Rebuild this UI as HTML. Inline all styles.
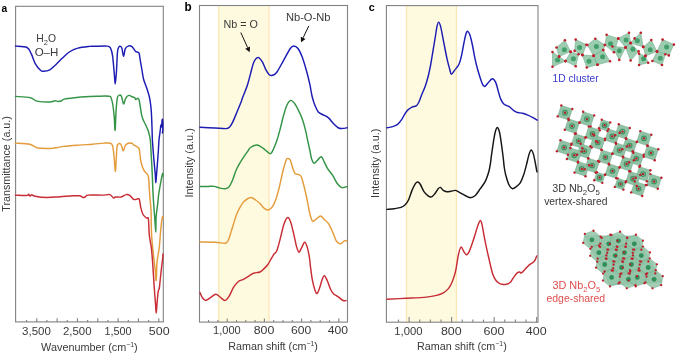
<!DOCTYPE html>
<html><head><meta charset="utf-8"><style>
html,body{margin:0;padding:0;background:#fff;}
body{width:685px;height:354px;overflow:hidden;}
svg{display:block;will-change:transform;font-family:"Liberation Sans",sans-serif;}
</style></head><body>
<svg width="685" height="354" viewBox="0 0 685 354">
<rect width="685" height="354" fill="#fff"/>
<rect x="218.8" y="5.5" width="50.19999999999999" height="316.6" fill="#fefae0"/>
<line x1="218.8" y1="5.5" x2="218.8" y2="322.1" stroke="#fae8b3" stroke-width="1.3"/>
<line x1="269.0" y1="5.5" x2="269.0" y2="322.1" stroke="#fae8b3" stroke-width="1.3"/>
<rect x="406.5" y="5.6" width="49.89999999999998" height="316.59999999999997" fill="#fefae0"/>
<line x1="406.5" y1="5.6" x2="406.5" y2="322.2" stroke="#fae8b3" stroke-width="1.3"/>
<line x1="456.4" y1="5.6" x2="456.4" y2="322.2" stroke="#fae8b3" stroke-width="1.3"/>
<rect x="15.6" y="6.3" width="147.70000000000002" height="315.59999999999997" fill="none" stroke="#828282" stroke-width="1.1"/>
<line x1="158.80" y1="321.9" x2="158.80" y2="318.29999999999995" stroke="#828282" stroke-width="1.1"/>
<line x1="148.63" y1="321.9" x2="148.63" y2="319.9" stroke="#828282" stroke-width="1.1"/>
<line x1="138.46" y1="321.9" x2="138.46" y2="318.29999999999995" stroke="#828282" stroke-width="1.1"/>
<line x1="128.29" y1="321.9" x2="128.29" y2="319.9" stroke="#828282" stroke-width="1.1"/>
<line x1="118.12" y1="321.9" x2="118.12" y2="318.29999999999995" stroke="#828282" stroke-width="1.1"/>
<line x1="107.95" y1="321.9" x2="107.95" y2="319.9" stroke="#828282" stroke-width="1.1"/>
<line x1="97.78" y1="321.9" x2="97.78" y2="318.29999999999995" stroke="#828282" stroke-width="1.1"/>
<line x1="87.61" y1="321.9" x2="87.61" y2="319.9" stroke="#828282" stroke-width="1.1"/>
<line x1="77.44" y1="321.9" x2="77.44" y2="318.29999999999995" stroke="#828282" stroke-width="1.1"/>
<line x1="67.27" y1="321.9" x2="67.27" y2="319.9" stroke="#828282" stroke-width="1.1"/>
<line x1="57.10" y1="321.9" x2="57.10" y2="318.29999999999995" stroke="#828282" stroke-width="1.1"/>
<line x1="46.93" y1="321.9" x2="46.93" y2="319.9" stroke="#828282" stroke-width="1.1"/>
<line x1="36.76" y1="321.9" x2="36.76" y2="318.29999999999995" stroke="#828282" stroke-width="1.1"/>
<line x1="26.59" y1="321.9" x2="26.59" y2="319.9" stroke="#828282" stroke-width="1.1"/>
<rect x="199.5" y="5.5" width="148.0" height="316.6" fill="none" stroke="#828282" stroke-width="1.1"/>
<line x1="208.60" y1="322.1" x2="208.60" y2="320.1" stroke="#828282" stroke-width="1.1"/>
<line x1="217.90" y1="322.1" x2="217.90" y2="320.1" stroke="#828282" stroke-width="1.1"/>
<line x1="227.20" y1="322.1" x2="227.20" y2="318.5" stroke="#828282" stroke-width="1.1"/>
<line x1="236.50" y1="322.1" x2="236.50" y2="320.1" stroke="#828282" stroke-width="1.1"/>
<line x1="245.80" y1="322.1" x2="245.80" y2="320.1" stroke="#828282" stroke-width="1.1"/>
<line x1="255.10" y1="322.1" x2="255.10" y2="320.1" stroke="#828282" stroke-width="1.1"/>
<line x1="264.40" y1="322.1" x2="264.40" y2="318.5" stroke="#828282" stroke-width="1.1"/>
<line x1="273.70" y1="322.1" x2="273.70" y2="320.1" stroke="#828282" stroke-width="1.1"/>
<line x1="283.00" y1="322.1" x2="283.00" y2="320.1" stroke="#828282" stroke-width="1.1"/>
<line x1="292.30" y1="322.1" x2="292.30" y2="320.1" stroke="#828282" stroke-width="1.1"/>
<line x1="301.60" y1="322.1" x2="301.60" y2="318.5" stroke="#828282" stroke-width="1.1"/>
<line x1="310.90" y1="322.1" x2="310.90" y2="320.1" stroke="#828282" stroke-width="1.1"/>
<line x1="320.20" y1="322.1" x2="320.20" y2="320.1" stroke="#828282" stroke-width="1.1"/>
<line x1="329.50" y1="322.1" x2="329.50" y2="320.1" stroke="#828282" stroke-width="1.1"/>
<line x1="338.80" y1="322.1" x2="338.80" y2="318.5" stroke="#828282" stroke-width="1.1"/>
<rect x="386.4" y="5.6" width="151.60000000000002" height="316.59999999999997" fill="none" stroke="#828282" stroke-width="1.1"/>
<line x1="398.47" y1="322.2" x2="398.47" y2="319.59999999999997" stroke="#828282" stroke-width="1.1"/>
<line x1="409.10" y1="322.2" x2="409.10" y2="317.0" stroke="#828282" stroke-width="1.1"/>
<line x1="419.73" y1="322.2" x2="419.73" y2="319.59999999999997" stroke="#828282" stroke-width="1.1"/>
<line x1="430.36" y1="322.2" x2="430.36" y2="319.59999999999997" stroke="#828282" stroke-width="1.1"/>
<line x1="440.99" y1="322.2" x2="440.99" y2="319.59999999999997" stroke="#828282" stroke-width="1.1"/>
<line x1="451.62" y1="322.2" x2="451.62" y2="317.0" stroke="#828282" stroke-width="1.1"/>
<line x1="462.25" y1="322.2" x2="462.25" y2="319.59999999999997" stroke="#828282" stroke-width="1.1"/>
<line x1="472.88" y1="322.2" x2="472.88" y2="319.59999999999997" stroke="#828282" stroke-width="1.1"/>
<line x1="483.51" y1="322.2" x2="483.51" y2="319.59999999999997" stroke="#828282" stroke-width="1.1"/>
<line x1="494.14" y1="322.2" x2="494.14" y2="317.0" stroke="#828282" stroke-width="1.1"/>
<line x1="504.77" y1="322.2" x2="504.77" y2="319.59999999999997" stroke="#828282" stroke-width="1.1"/>
<line x1="515.40" y1="322.2" x2="515.40" y2="319.59999999999997" stroke="#828282" stroke-width="1.1"/>
<line x1="526.03" y1="322.2" x2="526.03" y2="319.59999999999997" stroke="#828282" stroke-width="1.1"/>
<line x1="536.66" y1="322.2" x2="536.66" y2="317.0" stroke="#828282" stroke-width="1.1"/>
<path d="M15.50,46.10 C17.42,46.33 24.38,46.23 27.00,47.50 C29.62,48.77 29.80,50.97 31.20,53.70 C32.60,56.43 33.85,61.13 35.40,63.90 C36.95,66.67 39.15,69.07 40.50,70.30 C41.85,71.53 41.95,71.38 43.50,71.30 C45.05,71.22 47.75,70.90 49.80,69.80 C51.85,68.70 53.68,66.67 55.80,64.70 C57.92,62.73 60.25,60.12 62.50,58.00 C64.75,55.88 66.75,53.65 69.30,52.00 C71.85,50.35 74.40,49.03 77.80,48.10 C81.20,47.17 86.80,46.70 89.70,46.40 C92.60,46.10 92.32,46.35 95.20,46.30 C98.08,46.25 104.47,45.85 107.00,46.10 C109.53,46.35 109.48,46.25 110.40,47.80 C111.32,49.35 111.87,51.30 112.50,55.40 C113.13,59.50 113.75,67.65 114.20,72.40 C114.65,77.15 114.83,83.90 115.20,83.90 C115.57,83.90 116.02,77.72 116.40,72.40 C116.78,67.08 117.08,56.23 117.50,52.00 C117.92,47.77 118.38,47.93 118.90,47.00 C119.42,46.07 120.08,46.13 120.60,46.40 C121.12,46.67 121.50,46.95 122.00,48.60 C122.50,50.25 123.05,56.30 123.60,56.30 C124.15,56.30 124.53,50.30 125.30,48.60 C126.07,46.90 127.15,46.47 128.20,46.10 C129.25,45.73 130.60,45.83 131.60,46.40 C132.60,46.97 133.50,48.62 134.20,49.50 C134.90,50.38 135.02,51.13 135.80,51.70 C136.58,52.27 138.20,51.72 138.90,52.90 C139.60,54.08 139.52,56.12 140.00,58.80 C140.48,61.48 141.22,65.63 141.80,69.00 C142.38,72.37 142.65,75.75 143.50,79.00 C144.35,82.25 145.92,85.50 146.90,88.50 C147.88,91.50 148.77,94.25 149.40,97.00 C150.03,99.75 150.37,102.33 150.70,105.00 C151.03,107.67 151.18,109.33 151.40,113.00 C151.62,116.67 151.83,122.50 152.00,127.00 C152.17,131.50 152.15,135.33 152.40,140.00 C152.65,144.67 153.17,150.83 153.50,155.00 C153.83,159.17 154.10,161.67 154.40,165.00 C154.70,168.33 155.07,172.03 155.30,175.00 C155.53,177.97 155.60,182.80 155.80,182.80 C156.00,182.80 156.25,177.97 156.50,175.00 C156.75,172.03 156.98,169.17 157.30,165.00 C157.62,160.83 158.12,154.17 158.40,150.00 C158.68,145.83 158.68,143.33 159.00,140.00 C159.32,136.67 159.98,132.50 160.30,130.00 C160.62,127.50 160.68,125.50 160.90,125.00 C161.12,124.50 161.42,127.67 161.60,127.00 C161.78,126.33 161.85,122.22 162.00,121.00 C162.15,119.78 162.35,118.53 162.50,119.70 C162.65,120.87 162.92,125.78 162.90,128.00 C162.88,130.22 162.48,132.17 162.40,133.00" fill="none" stroke="#1c1cb4" stroke-width="1.45" stroke-linejoin="round" stroke-linecap="round"/>
<path d="M15.50,96.40 C17.97,96.62 26.70,96.92 30.30,97.70 C33.90,98.48 33.85,100.38 37.10,101.10 C40.35,101.82 46.83,102.05 49.80,102.00 C52.77,101.95 53.48,100.90 54.90,100.80 C56.32,100.70 57.17,101.40 58.30,101.40 C59.43,101.40 60.72,101.18 61.70,100.80 C62.68,100.42 62.08,99.62 64.20,99.10 C66.32,98.58 70.15,98.13 74.40,97.70 C78.65,97.27 85.82,96.75 89.70,96.50 C93.58,96.25 94.47,96.25 97.70,96.20 C100.93,96.15 106.88,95.95 109.10,96.20 C111.32,96.45 110.40,96.40 111.00,97.70 C111.60,99.00 112.17,100.82 112.70,104.00 C113.23,107.18 113.80,112.43 114.20,116.80 C114.60,121.17 114.78,131.27 115.10,130.20 C115.42,129.13 115.72,115.82 116.10,110.40 C116.48,104.98 116.87,100.23 117.40,97.70 C117.93,95.17 118.67,95.52 119.30,95.20 C119.93,94.88 120.67,94.97 121.20,95.80 C121.73,96.63 122.07,98.83 122.50,100.20 C122.93,101.57 123.27,104.32 123.80,104.00 C124.33,103.68 124.87,99.73 125.70,98.30 C126.53,96.87 127.75,95.67 128.80,95.40 C129.85,95.13 131.03,96.32 132.00,96.70 C132.97,97.08 133.97,97.22 134.60,97.70 C135.23,98.18 135.28,99.53 135.80,99.60 C136.32,99.67 137.17,98.10 137.70,98.10 C138.23,98.10 138.62,98.45 139.00,99.60 C139.38,100.75 139.53,102.33 140.00,105.00 C140.47,107.67 141.22,113.00 141.80,115.60 C142.38,118.20 142.93,119.20 143.50,120.60 C144.07,122.00 144.42,122.30 145.20,124.00 C145.98,125.70 147.35,128.13 148.20,130.80 C149.05,133.47 149.80,135.97 150.30,140.00 C150.80,144.03 150.95,150.83 151.20,155.00 C151.45,159.17 151.62,161.67 151.80,165.00 C151.98,168.33 152.08,170.00 152.30,175.00 C152.52,180.00 152.70,187.93 153.10,195.00 C153.50,202.07 154.25,211.22 154.70,217.40 C155.15,223.58 155.57,232.10 155.80,232.10 C156.03,232.10 155.77,222.22 156.10,217.40 C156.43,212.58 157.38,206.93 157.80,203.20 C158.22,199.47 158.25,197.70 158.60,195.00 C158.95,192.30 159.48,189.45 159.90,187.00 C160.32,184.55 160.65,182.55 161.10,180.30 C161.55,178.05 162.28,174.22 162.60,173.50 C162.92,172.78 162.93,175.58 163.00,176.00" fill="none" stroke="#349446" stroke-width="1.45" stroke-linejoin="round" stroke-linecap="round"/>
<path d="M15.50,143.10 C17.88,143.28 26.10,143.38 29.80,144.20 C33.50,145.02 34.20,147.30 37.70,148.00 C41.20,148.70 47.52,148.48 50.80,148.40 C54.08,148.32 55.22,147.83 57.40,147.50 C59.58,147.17 60.18,146.80 63.90,146.40 C67.62,146.00 74.88,145.47 79.70,145.10 C84.52,144.73 88.75,144.53 92.80,144.20 C96.85,143.87 101.03,143.25 104.00,143.10 C106.97,142.95 109.15,142.80 110.60,143.30 C112.05,143.80 112.12,143.87 112.70,146.10 C113.28,148.33 113.67,152.50 114.10,156.70 C114.53,160.90 114.95,170.75 115.30,171.30 C115.65,171.85 115.92,164.08 116.20,160.00 C116.48,155.92 116.63,149.47 117.00,146.80 C117.37,144.13 117.82,144.47 118.40,144.00 C118.98,143.53 119.92,143.53 120.50,144.00 C121.08,144.47 121.43,145.67 121.90,146.80 C122.37,147.93 122.72,151.03 123.30,150.80 C123.88,150.57 124.58,146.65 125.40,145.40 C126.22,144.15 127.13,143.65 128.20,143.30 C129.27,142.95 130.85,143.00 131.80,143.30 C132.75,143.60 133.20,144.63 133.90,145.10 C134.60,145.57 135.32,145.70 136.00,146.10 C136.68,146.50 137.43,146.88 138.00,147.50 C138.57,148.12 138.93,147.55 139.40,149.80 C139.87,152.05 140.28,158.13 140.80,161.00 C141.32,163.87 141.90,165.33 142.50,167.00 C143.10,168.67 143.50,169.63 144.40,171.00 C145.30,172.37 147.17,173.65 147.90,175.20 C148.63,176.75 148.50,177.00 148.80,180.30 C149.10,183.60 149.33,190.05 149.70,195.00 C150.07,199.95 150.68,203.33 151.00,210.00 C151.32,216.67 151.18,227.45 151.60,235.00 C152.02,242.55 152.90,249.47 153.50,255.30 C154.10,261.13 154.75,265.80 155.20,270.00 C155.65,274.20 155.90,281.77 156.20,280.50 C156.50,279.23 156.50,267.78 157.00,262.40 C157.50,257.02 158.65,252.77 159.20,248.20 C159.75,243.63 159.98,238.67 160.30,235.00 C160.62,231.33 160.75,229.22 161.10,226.20 C161.45,223.18 162.08,218.27 162.40,216.90 C162.72,215.53 162.90,217.82 163.00,218.00" fill="none" stroke="#e49b3a" stroke-width="1.45" stroke-linejoin="round" stroke-linecap="round"/>
<path d="M15.50,195.10 C17.43,195.15 24.93,195.55 27.10,195.40 C29.27,195.25 28.02,194.10 28.50,194.20 C28.98,194.30 29.47,195.92 30.00,196.00 C30.53,196.08 30.87,194.67 31.70,194.70 C32.53,194.73 32.47,195.73 35.00,196.20 C37.53,196.67 42.73,197.42 46.90,197.50 C51.07,197.58 55.63,196.98 60.00,196.70 C64.37,196.42 69.82,195.95 73.10,195.80 C76.38,195.65 78.17,195.58 79.70,195.80 C81.23,196.02 81.53,196.82 82.30,197.10 C83.07,197.38 83.63,197.68 84.30,197.50 C84.97,197.32 85.65,196.40 86.30,196.00 C86.95,195.60 85.25,195.25 88.20,195.10 C91.15,194.95 100.38,195.18 104.00,195.10 C107.62,195.02 108.33,194.13 109.90,194.60 C111.47,195.07 112.47,197.50 113.40,197.90 C114.33,198.30 114.20,197.15 115.50,197.00 C116.80,196.85 119.43,197.40 121.20,197.00 C122.97,196.60 124.68,194.88 126.10,194.60 C127.52,194.32 128.40,194.48 129.70,195.30 C131.00,196.12 132.50,198.92 133.90,199.50 C135.30,200.08 137.18,198.77 138.10,198.80 C139.02,198.83 138.95,198.25 139.40,199.70 C139.85,201.15 140.20,205.03 140.80,207.50 C141.40,209.97 142.05,212.75 143.00,214.50 C143.95,216.25 145.60,217.25 146.50,218.00 C147.40,218.75 147.93,216.17 148.40,219.00 C148.87,221.83 148.80,230.13 149.30,235.00 C149.80,239.87 150.82,243.20 151.40,248.20 C151.98,253.20 152.32,258.32 152.80,265.00 C153.28,271.68 153.85,281.83 154.30,288.30 C154.75,294.77 155.18,299.67 155.50,303.80 C155.82,307.93 155.95,313.10 156.20,313.10 C156.45,313.10 156.67,307.42 157.00,303.80 C157.33,300.18 157.82,293.98 158.20,291.40 C158.58,288.82 158.92,290.70 159.30,288.30 C159.68,285.90 160.13,280.38 160.50,277.00 C160.87,273.62 161.17,270.83 161.50,268.00 C161.83,265.17 162.25,262.33 162.50,260.00 C162.75,257.67 162.92,255.00 163.00,254.00" fill="none" stroke="#c82c34" stroke-width="1.45" stroke-linejoin="round" stroke-linecap="round"/>
<path d="M200.00,127.20 C202.50,127.33 210.67,127.77 215.00,128.00 C219.33,128.23 223.60,128.73 226.00,128.60 C228.40,128.47 228.28,128.28 229.40,127.20 C230.52,126.12 231.43,124.63 232.70,122.10 C233.97,119.57 235.58,115.38 237.00,112.00 C238.42,108.62 240.30,104.13 241.20,101.80 C242.10,99.47 241.40,100.67 242.40,98.00 C243.40,95.33 245.85,89.82 247.20,85.80 C248.55,81.78 249.38,77.87 250.50,73.90 C251.62,69.93 252.62,64.73 253.90,62.00 C255.18,59.27 256.78,57.50 258.20,57.50 C259.62,57.50 261.13,59.97 262.40,62.00 C263.67,64.03 264.67,67.58 265.80,69.70 C266.93,71.82 268.08,73.77 269.20,74.70 C270.32,75.63 271.23,75.72 272.50,75.30 C273.77,74.88 274.95,74.70 276.80,72.20 C278.65,69.70 281.35,64.25 283.60,60.30 C285.85,56.35 288.62,50.90 290.30,48.50 C291.98,46.10 292.42,45.90 293.70,45.90 C294.98,45.90 296.58,46.65 298.00,48.50 C299.42,50.35 300.80,53.33 302.20,57.00 C303.60,60.67 305.13,65.98 306.40,70.50 C307.67,75.02 308.90,80.02 309.80,84.10 C310.70,88.18 311.20,92.18 311.80,95.00 C312.40,97.82 312.88,99.30 313.40,101.00 C313.92,102.70 314.08,103.37 314.90,105.20 C315.72,107.03 317.03,110.45 318.30,112.00 C319.57,113.55 320.80,113.52 322.50,114.50 C324.20,115.48 326.65,116.35 328.50,117.90 C330.35,119.45 331.92,122.12 333.60,123.80 C335.28,125.48 337.05,127.23 338.60,128.00 C340.15,128.77 341.48,128.45 342.90,128.40 C344.32,128.35 346.40,127.82 347.10,127.70" fill="none" stroke="#1c1cb4" stroke-width="1.45" stroke-linejoin="round" stroke-linecap="round"/>
<path d="M200.00,186.40 C201.37,186.40 205.85,186.40 208.20,186.40 C210.55,186.40 212.13,186.12 214.10,186.40 C216.07,186.68 218.02,187.73 220.00,188.10 C221.98,188.47 224.43,188.88 226.00,188.60 C227.57,188.32 228.28,187.88 229.40,186.40 C230.52,184.92 231.58,182.38 232.70,179.70 C233.82,177.02 234.97,172.98 236.10,170.30 C237.23,167.62 238.22,165.85 239.50,163.60 C240.78,161.35 242.38,158.93 243.80,156.80 C245.22,154.67 246.88,152.35 248.00,150.80 C249.12,149.25 248.95,148.47 250.50,147.50 C252.05,146.53 255.17,144.85 257.30,145.00 C259.43,145.15 261.47,147.13 263.30,148.40 C265.13,149.67 267.03,151.75 268.30,152.60 C269.57,153.45 270.05,154.07 270.90,153.50 C271.75,152.93 272.42,151.32 273.40,149.20 C274.38,147.08 275.67,144.18 276.80,140.80 C277.93,137.42 279.07,133.15 280.20,128.90 C281.33,124.65 282.48,119.25 283.60,115.30 C284.72,111.35 285.72,107.68 286.90,105.20 C288.08,102.72 289.42,100.68 290.70,100.40 C291.98,100.12 293.38,102.00 294.60,103.50 C295.82,105.00 296.73,106.87 298.00,109.40 C299.27,111.93 300.93,115.17 302.20,118.70 C303.47,122.23 304.62,126.63 305.60,130.60 C306.58,134.57 307.40,139.27 308.10,142.50 C308.80,145.73 309.23,147.33 309.80,150.00 C310.37,152.67 310.78,156.30 311.50,158.50 C312.22,160.70 313.10,162.92 314.10,163.20 C315.10,163.48 316.28,161.27 317.50,160.20 C318.72,159.13 320.28,156.52 321.40,156.80 C322.52,157.08 323.17,159.93 324.20,161.90 C325.23,163.87 326.18,166.35 327.60,168.60 C329.02,170.85 331.15,173.00 332.70,175.40 C334.25,177.80 335.48,181.02 336.90,183.00 C338.32,184.98 339.92,186.58 341.20,187.30 C342.48,188.02 343.62,187.45 344.60,187.30 C345.58,187.15 346.68,186.55 347.10,186.40" fill="none" stroke="#349446" stroke-width="1.45" stroke-linejoin="round" stroke-linecap="round"/>
<path d="M200.00,242.00 C202.50,242.05 211.10,242.12 215.00,242.30 C218.90,242.48 221.57,242.97 223.40,243.10 C225.23,243.23 225.15,243.67 226.00,243.10 C226.85,242.53 227.67,241.53 228.50,239.70 C229.33,237.87 230.15,234.78 231.00,232.10 C231.85,229.42 232.60,226.70 233.60,223.60 C234.60,220.50 235.87,216.32 237.00,213.50 C238.13,210.68 239.27,208.67 240.40,206.70 C241.53,204.73 242.12,203.23 243.80,201.70 C245.48,200.17 248.53,197.78 250.50,197.50 C252.47,197.22 253.90,198.88 255.60,200.00 C257.30,201.12 259.42,202.95 260.70,204.20 C261.98,205.45 262.32,206.58 263.30,207.50 C264.28,208.42 265.62,209.33 266.60,209.70 C267.58,210.07 268.22,210.20 269.20,209.70 C270.18,209.20 271.38,208.45 272.50,206.70 C273.62,204.95 274.77,202.43 275.90,199.20 C277.03,195.97 278.17,191.83 279.30,187.30 C280.43,182.77 281.57,176.52 282.70,172.00 C283.83,167.48 285.25,162.45 286.10,160.20 C286.95,157.95 287.10,158.50 287.80,158.50 C288.50,158.50 289.45,158.52 290.30,160.20 C291.15,161.88 292.05,166.35 292.90,168.60 C293.75,170.85 294.42,172.70 295.40,173.70 C296.38,174.70 297.80,174.03 298.80,174.60 C299.80,175.17 300.42,174.70 301.40,177.10 C302.38,179.50 303.72,185.05 304.70,189.00 C305.68,192.95 306.45,196.72 307.30,200.80 C308.15,204.88 308.95,210.12 309.80,213.50 C310.65,216.88 311.40,220.12 312.40,221.10 C313.40,222.08 314.45,220.25 315.80,219.40 C317.15,218.55 319.10,216.00 320.50,216.00 C321.90,216.00 322.87,218.13 324.20,219.40 C325.53,220.67 327.08,221.48 328.50,223.60 C329.92,225.72 331.43,229.27 332.70,232.10 C333.97,234.93 334.97,238.68 336.10,240.60 C337.23,242.52 338.52,243.18 339.50,243.60 C340.48,244.02 341.15,243.60 342.00,243.10 C342.85,242.60 343.75,240.88 344.60,240.60 C345.45,240.32 346.68,241.27 347.10,241.40" fill="none" stroke="#e49b3a" stroke-width="1.45" stroke-linejoin="round" stroke-linecap="round"/>
<path d="M200.00,292.60 C200.37,293.40 201.27,296.10 202.20,297.40 C203.13,298.70 204.18,300.40 205.60,300.40 C207.02,300.40 209.00,298.42 210.70,297.40 C212.40,296.38 214.25,294.37 215.80,294.30 C217.35,294.23 218.45,295.98 220.00,297.00 C221.55,298.02 223.53,300.62 225.10,300.40 C226.67,300.18 227.98,297.90 229.40,295.70 C230.82,293.50 232.05,289.60 233.60,287.20 C235.15,284.80 237.15,282.57 238.70,281.30 C240.25,280.03 241.35,280.37 242.90,279.60 C244.45,278.83 246.30,277.75 248.00,276.70 C249.70,275.65 251.12,274.08 253.10,273.30 C255.08,272.52 258.07,272.78 259.90,272.00 C261.73,271.22 262.83,269.77 264.10,268.60 C265.37,267.43 266.43,266.43 267.50,265.00 C268.57,263.57 269.43,261.80 270.50,260.00 C271.57,258.20 272.85,255.73 273.90,254.20 C274.95,252.67 275.75,253.35 276.80,250.80 C277.85,248.25 279.07,243.15 280.20,238.90 C281.33,234.65 282.42,228.83 283.60,225.30 C284.78,221.77 286.18,218.40 287.30,217.70 C288.42,217.00 289.23,218.42 290.30,221.10 C291.37,223.78 292.70,229.70 293.70,233.80 C294.70,237.90 295.45,242.65 296.30,245.70 C297.15,248.75 297.95,251.68 298.80,252.10 C299.65,252.52 300.42,249.83 301.40,248.20 C302.38,246.57 303.72,242.43 304.70,242.30 C305.68,242.17 306.50,244.78 307.30,247.40 C308.10,250.02 308.97,254.75 309.50,258.00 C310.03,261.25 310.00,263.12 310.50,266.90 C311.00,270.68 311.73,276.75 312.50,280.70 C313.27,284.65 314.35,288.47 315.10,290.60 C315.85,292.73 316.28,293.83 317.00,293.50 C317.72,293.17 318.60,290.73 319.40,288.60 C320.20,286.47 320.98,282.83 321.80,280.70 C322.62,278.57 323.38,275.80 324.30,275.80 C325.22,275.80 326.30,278.57 327.30,280.70 C328.30,282.83 329.32,286.47 330.30,288.60 C331.28,290.73 331.88,292.12 333.20,293.50 C334.52,294.88 336.55,295.73 338.20,296.90 C339.85,298.07 341.78,299.90 343.10,300.50 C344.42,301.10 345.60,300.50 346.10,300.50" fill="none" stroke="#c82c34" stroke-width="1.45" stroke-linejoin="round" stroke-linecap="round"/>
<path d="M387.00,127.80 C387.92,127.60 390.73,127.17 392.50,126.60 C394.27,126.03 396.05,125.62 397.60,124.40 C399.15,123.18 400.53,121.13 401.80,119.30 C403.07,117.47 404.22,114.93 405.20,113.40 C406.18,111.87 406.57,111.13 407.70,110.10 C408.83,109.07 410.58,107.92 412.00,107.20 C413.42,106.48 415.08,106.58 416.20,105.80 C417.32,105.02 417.85,104.18 418.70,102.50 C419.55,100.82 420.17,98.53 421.30,95.70 C422.43,92.87 424.30,88.95 425.50,85.50 C426.70,82.05 427.65,78.42 428.50,75.00 C429.35,71.58 430.03,67.93 430.60,65.00 C431.17,62.07 431.12,62.07 431.90,57.40 C432.68,52.73 434.47,42.08 435.30,37.00 C436.13,31.92 436.35,29.38 436.90,26.90 C437.45,24.42 437.97,22.10 438.60,22.10 C439.23,22.10 439.85,23.57 440.70,26.90 C441.55,30.23 442.63,36.73 443.70,42.10 C444.77,47.47 446.10,54.58 447.10,59.10 C448.10,63.62 448.98,66.67 449.70,69.20 C450.42,71.73 450.57,74.15 451.40,74.30 C452.23,74.45 453.43,71.78 454.70,70.10 C455.97,68.42 457.87,66.60 459.00,64.20 C460.13,61.80 460.65,59.38 461.50,55.70 C462.35,52.02 463.33,45.78 464.10,42.10 C464.87,38.42 465.48,35.38 466.10,33.60 C466.72,31.82 467.15,31.12 467.80,31.40 C468.45,31.68 469.22,32.95 470.00,35.30 C470.78,37.65 471.65,41.53 472.50,45.50 C473.35,49.47 474.25,55.15 475.10,59.10 C475.95,63.05 476.45,65.22 477.60,69.20 C478.75,73.18 480.83,80.13 482.00,83.00 C483.17,85.87 483.60,86.40 484.60,86.40 C485.60,86.40 486.73,84.28 488.00,83.00 C489.27,81.72 490.93,78.85 492.20,78.70 C493.47,78.55 494.62,80.12 495.60,82.10 C496.58,84.08 497.25,87.77 498.10,90.60 C498.95,93.43 499.70,96.83 500.70,99.10 C501.70,101.37 502.68,102.93 504.10,104.20 C505.52,105.47 507.52,105.58 509.20,106.70 C510.88,107.82 512.80,109.93 514.20,110.90 C515.60,111.87 516.18,112.10 517.60,112.50 C519.02,112.90 521.00,112.87 522.70,113.30 C524.40,113.73 526.10,114.38 527.80,115.10 C529.50,115.82 531.35,116.75 532.90,117.60 C534.45,118.45 536.40,119.77 537.10,120.20" fill="none" stroke="#1c1cb4" stroke-width="1.45" stroke-linejoin="round" stroke-linecap="round"/>
<path d="M387.00,209.40 C388.20,209.28 391.87,209.03 394.20,208.70 C396.53,208.37 399.17,208.05 401.00,207.40 C402.83,206.75 403.93,206.08 405.20,204.80 C406.47,203.52 407.47,202.10 408.60,199.70 C409.73,197.30 410.87,193.08 412.00,190.40 C413.13,187.72 414.42,185.00 415.40,183.60 C416.38,182.20 417.07,181.85 417.90,182.00 C418.73,182.15 419.42,182.95 420.40,184.50 C421.38,186.05 422.52,189.42 423.80,191.30 C425.08,193.18 426.82,194.87 428.10,195.80 C429.38,196.73 430.38,197.23 431.50,196.90 C432.62,196.57 433.68,195.17 434.80,193.80 C435.92,192.43 437.27,189.77 438.20,188.70 C439.13,187.63 439.55,187.12 440.40,187.40 C441.25,187.68 442.25,189.67 443.30,190.40 C444.35,191.13 445.43,191.65 446.70,191.80 C447.97,191.95 449.48,191.53 450.90,191.30 C452.32,191.07 453.92,190.32 455.20,190.40 C456.48,190.48 457.33,191.17 458.60,191.80 C459.87,192.43 461.72,193.58 462.80,194.20 C463.88,194.82 463.87,194.92 465.10,195.50 C466.33,196.08 468.50,197.70 470.20,197.70 C471.90,197.70 473.62,197.00 475.30,195.50 C476.98,194.00 478.62,191.10 480.30,188.70 C481.98,186.30 483.98,183.92 485.40,181.10 C486.82,178.28 487.95,174.82 488.80,171.80 C489.65,168.78 490.07,165.67 490.50,163.00 C490.93,160.33 490.83,159.83 491.40,155.80 C491.97,151.77 493.22,142.93 493.90,138.80 C494.58,134.67 494.93,132.88 495.50,131.00 C496.07,129.12 496.68,127.50 497.30,127.50 C497.92,127.50 498.63,129.12 499.20,131.00 C499.77,132.88 500.03,134.38 500.70,138.80 C501.37,143.22 502.62,152.80 503.20,157.50 C503.78,162.20 503.77,164.05 504.20,167.00 C504.63,169.95 504.97,172.15 505.80,175.20 C506.63,178.25 508.08,183.05 509.20,185.30 C510.32,187.55 511.38,188.42 512.50,188.70 C513.62,188.98 514.58,188.02 515.90,187.00 C517.22,185.98 519.13,184.55 520.40,182.60 C521.67,180.65 522.52,178.17 523.50,175.30 C524.48,172.43 525.37,168.93 526.30,165.40 C527.23,161.87 528.28,156.68 529.10,154.10 C529.92,151.52 530.48,149.90 531.20,149.90 C531.92,149.90 532.68,151.75 533.40,154.10 C534.12,156.45 534.92,161.05 535.50,164.00 C536.08,166.95 536.67,170.50 536.90,171.80" fill="none" stroke="#151515" stroke-width="1.45" stroke-linejoin="round" stroke-linecap="round"/>
<path d="M387.00,299.20 C390.17,299.05 399.43,298.65 406.00,298.30 C412.57,297.95 421.32,297.58 426.40,297.10 C431.48,296.62 433.68,296.10 436.50,295.40 C439.32,294.70 441.32,294.03 443.30,292.90 C445.28,291.77 446.98,290.30 448.40,288.60 C449.82,286.90 450.82,284.82 451.80,282.70 C452.78,280.58 453.60,278.15 454.30,275.90 C455.00,273.65 455.28,272.87 456.00,269.20 C456.72,265.53 457.75,257.58 458.60,253.90 C459.45,250.22 460.17,247.37 461.10,247.10 C462.03,246.83 463.25,251.02 464.20,252.30 C465.15,253.58 465.95,254.95 466.80,254.80 C467.65,254.65 468.32,253.52 469.30,251.40 C470.28,249.28 471.57,245.48 472.70,242.10 C473.83,238.72 475.12,234.20 476.10,231.10 C477.08,228.00 477.90,225.28 478.60,223.50 C479.30,221.72 479.73,220.27 480.30,220.40 C480.87,220.53 481.28,221.25 482.00,224.30 C482.72,227.35 483.75,234.32 484.60,238.70 C485.45,243.08 486.18,246.45 487.10,250.60 C488.02,254.75 489.18,259.75 490.10,263.60 C491.02,267.45 491.62,270.88 492.60,273.70 C493.58,276.52 494.72,278.80 496.00,280.50 C497.28,282.20 498.60,283.28 500.30,283.90 C502.00,284.52 504.52,284.48 506.20,284.20 C507.88,283.92 509.13,283.38 510.40,282.20 C511.67,281.02 512.67,278.65 513.80,277.10 C514.93,275.55 516.22,273.75 517.20,272.90 C518.18,272.05 519.00,272.00 519.70,272.00 C520.40,272.00 520.40,273.47 521.40,272.90 C522.40,272.33 524.28,270.02 525.70,268.60 C527.12,267.18 528.63,265.47 529.90,264.40 C531.17,263.33 532.45,262.90 533.30,262.20 C534.15,261.50 534.43,261.25 535.00,260.20 C535.57,259.15 536.42,256.62 536.70,255.90" fill="none" stroke="#c82c34" stroke-width="1.45" stroke-linejoin="round" stroke-linecap="round"/>
<line x1="240.8" y1="32.5" x2="247.64" y2="47.64" stroke="#111" stroke-width="1"/>
<polygon points="249.7,52.2 245.27,48.71 250.01,46.57" fill="#111"/>
<line x1="308.8" y1="25.9" x2="303.15" y2="37.78" stroke="#111" stroke-width="1"/>
<polygon points="301,42.3 300.80,36.67 305.50,38.90" fill="#111"/>
<text x="1.58" y="11.5" font-size="11.6" font-weight="bold" fill="#000" textLength="5.68" lengthAdjust="spacingAndGlyphs">a</text>
<text x="184.38" y="10.7" font-size="12.2" font-weight="bold" fill="#000" textLength="7.15" lengthAdjust="spacingAndGlyphs">b</text>
<text x="368.85" y="10.9" font-size="11.8" font-weight="bold" fill="#000" textLength="5.93" lengthAdjust="spacingAndGlyphs">c</text>
<text x="36.35" y="42.3" font-size="10.3" font-weight="normal" fill="#3a3a3a" textLength="19.73" lengthAdjust="spacingAndGlyphs">H<tspan font-size="7.5" dy="2.6">2</tspan><tspan dy="-2.6">O</tspan></text>
<text x="34.65" y="56.4" font-size="10.4" font-weight="normal" fill="#3a3a3a" textLength="23.73" lengthAdjust="spacingAndGlyphs">O–H</text>
<text x="22.10" y="334.6" font-size="11.5" font-weight="normal" fill="#3a3a3a" textLength="28.73" lengthAdjust="spacingAndGlyphs">3,500</text>
<text x="63.00" y="334.6" font-size="11.5" font-weight="normal" fill="#3a3a3a" textLength="28.52" lengthAdjust="spacingAndGlyphs">2,500</text>
<text x="104.39" y="334.6" font-size="11.5" font-weight="normal" fill="#3a3a3a" textLength="27.11" lengthAdjust="spacingAndGlyphs">1,500</text>
<text x="148.86" y="334.6" font-size="11.5" font-weight="normal" fill="#3a3a3a" textLength="20.71" lengthAdjust="spacingAndGlyphs">500</text>
<text x="213.07" y="334.1" font-size="11.3" font-weight="normal" fill="#3a3a3a" textLength="27.71" lengthAdjust="spacingAndGlyphs">1,000</text>
<text x="253.65" y="334.1" font-size="11.3" font-weight="normal" fill="#3a3a3a" textLength="20.64" lengthAdjust="spacingAndGlyphs">800</text>
<text x="290.96" y="334.1" font-size="11.3" font-weight="normal" fill="#3a3a3a" textLength="20.22" lengthAdjust="spacingAndGlyphs">600</text>
<text x="327.83" y="334.1" font-size="11.3" font-weight="normal" fill="#3a3a3a" textLength="20.25" lengthAdjust="spacingAndGlyphs">400</text>
<text x="394.35" y="334.9" font-size="11.3" font-weight="normal" fill="#3a3a3a" textLength="28.13" lengthAdjust="spacingAndGlyphs">1,000</text>
<text x="440.95" y="334.9" font-size="11.3" font-weight="normal" fill="#3a3a3a" textLength="20.75" lengthAdjust="spacingAndGlyphs">800</text>
<text x="483.55" y="334.9" font-size="11.3" font-weight="normal" fill="#3a3a3a" textLength="20.85" lengthAdjust="spacingAndGlyphs">600</text>
<text x="525.82" y="334.9" font-size="11.3" font-weight="normal" fill="#3a3a3a" textLength="20.77" lengthAdjust="spacingAndGlyphs">400</text>
<text x="41.10" y="350.6" font-size="11.0" font-weight="normal" fill="#3a3a3a" textLength="96.64" lengthAdjust="spacingAndGlyphs">Wavenumber (cm<tspan font-size="7" dy="-4">−1</tspan><tspan dy="4">)</tspan></text>
<text x="228.22" y="349.7" font-size="11.0" font-weight="normal" fill="#3a3a3a" textLength="89.70" lengthAdjust="spacingAndGlyphs">Raman shift (cm<tspan font-size="7" dy="-4">−1</tspan><tspan dy="4">)</tspan></text>
<text x="417.02" y="349.9" font-size="11.0" font-weight="normal" fill="#3a3a3a" textLength="89.70" lengthAdjust="spacingAndGlyphs">Raman shift (cm<tspan font-size="7" dy="-4">−1</tspan><tspan dy="4">)</tspan></text>
<text x="223.52" y="27.8" font-size="10.3" font-weight="normal" fill="#3a3a3a" textLength="34.43" lengthAdjust="spacingAndGlyphs">Nb = O</text>
<text x="285.92" y="21.4" font-size="10.7" font-weight="normal" fill="#3a3a3a" textLength="44.52" lengthAdjust="spacingAndGlyphs">Nb-O-Nb</text>
<text x="552.51" y="81.6" font-size="11.2" font-weight="normal" fill="#3b3bcf" textLength="46.20" lengthAdjust="spacingAndGlyphs">1D cluster</text>
<text x="552.19" y="191.9" font-size="10.5" font-weight="normal" fill="#3a3a3a" textLength="47.67" lengthAdjust="spacingAndGlyphs">3D Nb<tspan font-size="7.6" dy="3">2</tspan><tspan dy="-3">O</tspan><tspan font-size="7.6" dy="3">5</tspan></text>
<text x="544.20" y="205.4" font-size="10.2" font-weight="normal" fill="#3a3a3a" textLength="63.26" lengthAdjust="spacingAndGlyphs">vertex-shared</text>
<text x="552.40" y="288.7" font-size="10.8" font-weight="normal" fill="#e04e4e" textLength="47.94" lengthAdjust="spacingAndGlyphs">3D Nb<tspan font-size="7.6" dy="3">2</tspan><tspan dy="-3">O</tspan><tspan font-size="7.6" dy="3">5</tspan></text>
<text x="546.49" y="301.8" font-size="10.3" font-weight="normal" fill="#e04e4e" textLength="58.69" lengthAdjust="spacingAndGlyphs">edge-shared</text>
<text transform="translate(9.7,211.74) rotate(-90)" x="0" y="0" font-size="11.2" font-weight="normal" fill="#3a3a3a" textLength="95.60" lengthAdjust="spacingAndGlyphs">Transmittance (a.u.)</text>
<text transform="translate(192.9,197.60) rotate(-90)" x="0" y="0" font-size="11.0" font-weight="normal" fill="#3a3a3a" textLength="69.50" lengthAdjust="spacingAndGlyphs">Intensity (a.u.)</text>
<text transform="translate(378.9,197.90) rotate(-90)" x="0" y="0" font-size="11.0" font-weight="normal" fill="#3a3a3a" textLength="69.40" lengthAdjust="spacingAndGlyphs">Intensity (a.u.)</text>
<polygon points="552.50,52.00 559.10,56.60 565.50,61.10 552.50,66.70" fill="#8fc6a6" fill-opacity="0.88" stroke="#74ad8e" stroke-width="0.6" stroke-linejoin="round"/>
<polygon points="564.90,40.20 570.50,51.50 559.10,56.60 556.50,47.50" fill="#8fc6a6" fill-opacity="0.88" stroke="#74ad8e" stroke-width="0.6" stroke-linejoin="round"/>
<polygon points="570.60,52.00 578.50,54.30 575.70,66.20 565.50,61.10" fill="#8fc6a6" fill-opacity="0.88" stroke="#74ad8e" stroke-width="0.6" stroke-linejoin="round"/>
<polygon points="575.70,39.60 586.40,44.70 582.50,54.90 574.60,50.90" fill="#8fc6a6" fill-opacity="0.88" stroke="#74ad8e" stroke-width="0.6" stroke-linejoin="round"/>
<polygon points="595.30,38.70 604.90,45.00 603.20,50.00 593.60,55.70 587.30,45.00" fill="#8fc6a6" fill-opacity="0.88" stroke="#74ad8e" stroke-width="0.6" stroke-linejoin="round"/>
<polygon points="582.30,55.10 593.60,55.70 597.50,64.70 586.80,67.50" fill="#8fc6a6" fill-opacity="0.88" stroke="#74ad8e" stroke-width="0.6" stroke-linejoin="round"/>
<polygon points="593.60,55.70 603.20,50.00 610.00,61.30 597.50,64.70" fill="#8fc6a6" fill-opacity="0.88" stroke="#74ad8e" stroke-width="0.6" stroke-linejoin="round"/>
<polygon points="606.60,34.80 618.40,38.70 613.90,52.30 604.90,45.00" fill="#8fc6a6" fill-opacity="0.88" stroke="#74ad8e" stroke-width="0.6" stroke-linejoin="round"/>
<polygon points="612.50,46.50 625.60,47.50 619.30,59.90" fill="#8fc6a6" fill-opacity="0.88" stroke="#74ad8e" stroke-width="0.6" stroke-linejoin="round"/>
<polygon points="629.00,32.80 630.60,43.00 625.60,47.50 618.20,38.40" fill="#8fc6a6" fill-opacity="0.88" stroke="#74ad8e" stroke-width="0.6" stroke-linejoin="round"/>
<polygon points="630.60,43.00 638.60,51.40 630.60,60.50 625.60,47.50" fill="#8fc6a6" fill-opacity="0.88" stroke="#74ad8e" stroke-width="0.6" stroke-linejoin="round"/>
<polygon points="640.80,32.80 643.10,46.90 630.60,43.00 634.60,38.40" fill="#8fc6a6" fill-opacity="0.88" stroke="#74ad8e" stroke-width="0.6" stroke-linejoin="round"/>
<polygon points="639.10,53.70 645.30,55.90 648.20,62.70 639.10,65.00" fill="#8fc6a6" fill-opacity="0.88" stroke="#74ad8e" stroke-width="0.6" stroke-linejoin="round"/>
<polygon points="651.30,40.10 657.00,51.40 645.60,55.90 643.40,46.90" fill="#8fc6a6" fill-opacity="0.88" stroke="#74ad8e" stroke-width="0.6" stroke-linejoin="round"/>
<polygon points="657.00,51.40 665.40,54.20 662.00,65.00 652.40,61.00" fill="#8fc6a6" fill-opacity="0.88" stroke="#74ad8e" stroke-width="0.6" stroke-linejoin="round"/>
<polygon points="662.60,39.60 673.90,44.60 668.80,55.40 657.00,51.40" fill="#8fc6a6" fill-opacity="0.88" stroke="#74ad8e" stroke-width="0.6" stroke-linejoin="round"/>
<circle cx="557.60" cy="59.90" r="2.5" fill="#3a9a64" fill-opacity="0.9"/>
<circle cx="564.40" cy="49.80" r="2.5" fill="#3a9a64" fill-opacity="0.9"/>
<circle cx="573.40" cy="58.80" r="2.5" fill="#3a9a64" fill-opacity="0.9"/>
<circle cx="579.60" cy="47.50" r="2.5" fill="#3a9a64" fill-opacity="0.9"/>
<circle cx="596.40" cy="46.60" r="2.5" fill="#3a9a64" fill-opacity="0.9"/>
<circle cx="589.00" cy="61.30" r="2.5" fill="#3a9a64" fill-opacity="0.9"/>
<circle cx="602.60" cy="56.80" r="2.5" fill="#3a9a64" fill-opacity="0.9"/>
<circle cx="610.50" cy="43.80" r="2.5" fill="#3a9a64" fill-opacity="0.9"/>
<circle cx="619.30" cy="50.80" r="2.5" fill="#3a9a64" fill-opacity="0.9"/>
<circle cx="626.10" cy="40.10" r="2.5" fill="#3a9a64" fill-opacity="0.9"/>
<circle cx="632.90" cy="49.20" r="2.5" fill="#3a9a64" fill-opacity="0.9"/>
<circle cx="637.40" cy="40.70" r="2.5" fill="#3a9a64" fill-opacity="0.9"/>
<circle cx="643.60" cy="58.80" r="2.5" fill="#3a9a64" fill-opacity="0.9"/>
<circle cx="650.20" cy="49.70" r="2.5" fill="#3a9a64" fill-opacity="0.9"/>
<circle cx="660.30" cy="58.20" r="2.5" fill="#3a9a64" fill-opacity="0.9"/>
<circle cx="666.60" cy="46.90" r="2.5" fill="#3a9a64" fill-opacity="0.9"/>
<circle cx="552.50" cy="52.00" r="1.3" fill="#c01e2a"/>
<circle cx="559.10" cy="56.60" r="1.3" fill="#c01e2a"/>
<circle cx="565.50" cy="61.10" r="1.3" fill="#c01e2a"/>
<circle cx="552.50" cy="66.70" r="1.3" fill="#c01e2a"/>
<circle cx="564.90" cy="40.20" r="1.3" fill="#c01e2a"/>
<circle cx="570.50" cy="51.50" r="1.3" fill="#c01e2a"/>
<circle cx="559.10" cy="56.60" r="1.3" fill="#c01e2a"/>
<circle cx="556.50" cy="47.50" r="1.3" fill="#c01e2a"/>
<circle cx="570.60" cy="52.00" r="1.3" fill="#c01e2a"/>
<circle cx="578.50" cy="54.30" r="1.3" fill="#c01e2a"/>
<circle cx="575.70" cy="66.20" r="1.3" fill="#c01e2a"/>
<circle cx="565.50" cy="61.10" r="1.3" fill="#c01e2a"/>
<circle cx="575.70" cy="39.60" r="1.3" fill="#c01e2a"/>
<circle cx="586.40" cy="44.70" r="1.3" fill="#c01e2a"/>
<circle cx="582.50" cy="54.90" r="1.3" fill="#c01e2a"/>
<circle cx="574.60" cy="50.90" r="1.3" fill="#c01e2a"/>
<circle cx="595.30" cy="38.70" r="1.3" fill="#c01e2a"/>
<circle cx="604.90" cy="45.00" r="1.3" fill="#c01e2a"/>
<circle cx="603.20" cy="50.00" r="1.3" fill="#c01e2a"/>
<circle cx="593.60" cy="55.70" r="1.3" fill="#c01e2a"/>
<circle cx="587.30" cy="45.00" r="1.3" fill="#c01e2a"/>
<circle cx="582.30" cy="55.10" r="1.3" fill="#c01e2a"/>
<circle cx="593.60" cy="55.70" r="1.3" fill="#c01e2a"/>
<circle cx="597.50" cy="64.70" r="1.3" fill="#c01e2a"/>
<circle cx="586.80" cy="67.50" r="1.3" fill="#c01e2a"/>
<circle cx="593.60" cy="55.70" r="1.3" fill="#c01e2a"/>
<circle cx="603.20" cy="50.00" r="1.3" fill="#c01e2a"/>
<circle cx="610.00" cy="61.30" r="1.3" fill="#c01e2a"/>
<circle cx="597.50" cy="64.70" r="1.3" fill="#c01e2a"/>
<circle cx="606.60" cy="34.80" r="1.3" fill="#c01e2a"/>
<circle cx="618.40" cy="38.70" r="1.3" fill="#c01e2a"/>
<circle cx="613.90" cy="52.30" r="1.3" fill="#c01e2a"/>
<circle cx="604.90" cy="45.00" r="1.3" fill="#c01e2a"/>
<circle cx="612.50" cy="46.50" r="1.3" fill="#c01e2a"/>
<circle cx="625.60" cy="47.50" r="1.3" fill="#c01e2a"/>
<circle cx="619.30" cy="59.90" r="1.3" fill="#c01e2a"/>
<circle cx="629.00" cy="32.80" r="1.3" fill="#c01e2a"/>
<circle cx="630.60" cy="43.00" r="1.3" fill="#c01e2a"/>
<circle cx="625.60" cy="47.50" r="1.3" fill="#c01e2a"/>
<circle cx="618.20" cy="38.40" r="1.3" fill="#c01e2a"/>
<circle cx="630.60" cy="43.00" r="1.3" fill="#c01e2a"/>
<circle cx="638.60" cy="51.40" r="1.3" fill="#c01e2a"/>
<circle cx="630.60" cy="60.50" r="1.3" fill="#c01e2a"/>
<circle cx="625.60" cy="47.50" r="1.3" fill="#c01e2a"/>
<circle cx="640.80" cy="32.80" r="1.3" fill="#c01e2a"/>
<circle cx="643.10" cy="46.90" r="1.3" fill="#c01e2a"/>
<circle cx="630.60" cy="43.00" r="1.3" fill="#c01e2a"/>
<circle cx="634.60" cy="38.40" r="1.3" fill="#c01e2a"/>
<circle cx="639.10" cy="53.70" r="1.3" fill="#c01e2a"/>
<circle cx="645.30" cy="55.90" r="1.3" fill="#c01e2a"/>
<circle cx="648.20" cy="62.70" r="1.3" fill="#c01e2a"/>
<circle cx="639.10" cy="65.00" r="1.3" fill="#c01e2a"/>
<circle cx="651.30" cy="40.10" r="1.3" fill="#c01e2a"/>
<circle cx="657.00" cy="51.40" r="1.3" fill="#c01e2a"/>
<circle cx="645.60" cy="55.90" r="1.3" fill="#c01e2a"/>
<circle cx="643.40" cy="46.90" r="1.3" fill="#c01e2a"/>
<circle cx="657.00" cy="51.40" r="1.3" fill="#c01e2a"/>
<circle cx="665.40" cy="54.20" r="1.3" fill="#c01e2a"/>
<circle cx="662.00" cy="65.00" r="1.3" fill="#c01e2a"/>
<circle cx="652.40" cy="61.00" r="1.3" fill="#c01e2a"/>
<circle cx="662.60" cy="39.60" r="1.3" fill="#c01e2a"/>
<circle cx="673.90" cy="44.60" r="1.3" fill="#c01e2a"/>
<circle cx="668.80" cy="55.40" r="1.3" fill="#c01e2a"/>
<circle cx="657.00" cy="51.40" r="1.3" fill="#c01e2a"/>
<polygon points="568.72,120.01 557.69,116.42 561.28,105.39 572.31,108.98" fill="#87bd9d" fill-opacity="0.92" stroke="#74ad8e" stroke-width="0.6" stroke-linejoin="round"/>
<polygon points="590.62,126.41 579.59,122.82 583.18,111.79 594.21,115.38" fill="#87bd9d" fill-opacity="0.92" stroke="#74ad8e" stroke-width="0.6" stroke-linejoin="round"/>
<polygon points="607.49,130.97 598.93,128.19 601.71,119.63 610.27,122.41" fill="#87bd9d" fill-opacity="0.92" stroke="#74ad8e" stroke-width="0.6" stroke-linejoin="round"/>
<polygon points="626.22,138.91 615.19,135.32 618.78,124.29 629.81,127.88" fill="#87bd9d" fill-opacity="0.92" stroke="#74ad8e" stroke-width="0.6" stroke-linejoin="round"/>
<polygon points="575.82,133.41 564.79,129.82 568.38,118.79 579.41,122.38" fill="#87bd9d" fill-opacity="0.92" stroke="#74ad8e" stroke-width="0.6" stroke-linejoin="round"/>
<polygon points="596.22,141.21 585.19,137.62 588.78,126.59 599.81,130.18" fill="#87bd9d" fill-opacity="0.92" stroke="#74ad8e" stroke-width="0.6" stroke-linejoin="round"/>
<polygon points="616.02,143.71 604.99,140.12 608.58,129.09 619.61,132.68" fill="#87bd9d" fill-opacity="0.92" stroke="#74ad8e" stroke-width="0.6" stroke-linejoin="round"/>
<polygon points="647.72,145.71 636.69,142.12 640.28,131.09 651.31,134.68" fill="#87bd9d" fill-opacity="0.92" stroke="#74ad8e" stroke-width="0.6" stroke-linejoin="round"/>
<polygon points="582.32,148.31 571.29,144.72 574.88,133.69 585.91,137.28" fill="#87bd9d" fill-opacity="0.92" stroke="#74ad8e" stroke-width="0.6" stroke-linejoin="round"/>
<polygon points="601.42,149.81 590.39,146.22 593.98,135.19 605.01,138.78" fill="#87bd9d" fill-opacity="0.92" stroke="#74ad8e" stroke-width="0.6" stroke-linejoin="round"/>
<polygon points="633.32,152.81 622.29,149.22 625.88,138.19 636.91,141.78" fill="#87bd9d" fill-opacity="0.92" stroke="#74ad8e" stroke-width="0.6" stroke-linejoin="round"/>
<polygon points="623.22,157.41 612.19,153.82 615.78,142.79 626.81,146.38" fill="#87bd9d" fill-opacity="0.92" stroke="#74ad8e" stroke-width="0.6" stroke-linejoin="round"/>
<polygon points="654.72,160.31 643.69,156.72 647.28,145.69 658.31,149.28" fill="#87bd9d" fill-opacity="0.92" stroke="#74ad8e" stroke-width="0.6" stroke-linejoin="round"/>
<polygon points="567.92,154.81 556.89,151.22 560.48,140.19 571.51,143.78" fill="#87bd9d" fill-opacity="0.92" stroke="#74ad8e" stroke-width="0.6" stroke-linejoin="round"/>
<polygon points="588.12,158.41 577.09,154.82 580.68,143.79 591.71,147.38" fill="#87bd9d" fill-opacity="0.92" stroke="#74ad8e" stroke-width="0.6" stroke-linejoin="round"/>
<polygon points="577.92,162.61 566.89,159.02 570.48,147.99 581.51,151.58" fill="#87bd9d" fill-opacity="0.92" stroke="#74ad8e" stroke-width="0.6" stroke-linejoin="round"/>
<polygon points="609.12,164.61 598.09,161.02 601.68,149.99 612.71,153.58" fill="#87bd9d" fill-opacity="0.92" stroke="#74ad8e" stroke-width="0.6" stroke-linejoin="round"/>
<polygon points="640.12,165.81 629.09,162.22 632.68,151.19 643.71,154.78" fill="#87bd9d" fill-opacity="0.92" stroke="#74ad8e" stroke-width="0.6" stroke-linejoin="round"/>
<polygon points="630.32,171.21 619.29,167.62 622.88,156.59 633.91,160.18" fill="#87bd9d" fill-opacity="0.92" stroke="#74ad8e" stroke-width="0.6" stroke-linejoin="round"/>
<polygon points="595.72,172.81 584.69,169.22 588.28,158.19 599.31,161.78" fill="#87bd9d" fill-opacity="0.92" stroke="#74ad8e" stroke-width="0.6" stroke-linejoin="round"/>
<polygon points="585.52,176.21 574.49,172.62 578.08,161.59 589.11,165.18" fill="#87bd9d" fill-opacity="0.92" stroke="#74ad8e" stroke-width="0.6" stroke-linejoin="round"/>
<polygon points="616.22,178.31 605.19,174.72 608.78,163.69 619.81,167.28" fill="#87bd9d" fill-opacity="0.92" stroke="#74ad8e" stroke-width="0.6" stroke-linejoin="round"/>
<polygon points="646.82,181.31 635.79,177.72 639.38,166.69 650.41,170.28" fill="#87bd9d" fill-opacity="0.92" stroke="#74ad8e" stroke-width="0.6" stroke-linejoin="round"/>
<polygon points="602.33,182.86 594.24,180.23 596.87,172.14 604.96,174.77" fill="#87bd9d" fill-opacity="0.92" stroke="#74ad8e" stroke-width="0.6" stroke-linejoin="round"/>
<polygon points="636.72,185.91 625.69,182.32 629.28,171.29 640.31,174.88" fill="#87bd9d" fill-opacity="0.92" stroke="#74ad8e" stroke-width="0.6" stroke-linejoin="round"/>
<polygon points="657.82,188.71 646.79,185.12 650.38,174.09 661.41,177.68" fill="#87bd9d" fill-opacity="0.92" stroke="#74ad8e" stroke-width="0.6" stroke-linejoin="round"/>
<polygon points="623.39,189.67 614.83,186.89 617.61,178.33 626.17,181.11" fill="#87bd9d" fill-opacity="0.92" stroke="#74ad8e" stroke-width="0.6" stroke-linejoin="round"/>
<polygon points="642.22,196.01 631.19,192.42 634.78,181.39 645.81,184.98" fill="#87bd9d" fill-opacity="0.92" stroke="#74ad8e" stroke-width="0.6" stroke-linejoin="round"/>
<circle cx="565.00" cy="112.70" r="2.3" fill="none" stroke="#3f9462" stroke-width="1.1"/>
<circle cx="565.00" cy="112.70" r="1.2" fill="#a8262c"/>
<circle cx="586.90" cy="119.10" r="2.3" fill="none" stroke="#3f9462" stroke-width="1.1"/>
<circle cx="586.90" cy="119.10" r="1.2" fill="#a8262c"/>
<circle cx="604.60" cy="125.30" r="2.3" fill="none" stroke="#3f9462" stroke-width="1.1"/>
<circle cx="604.60" cy="125.30" r="1.2" fill="#a8262c"/>
<circle cx="622.50" cy="131.60" r="2.3" fill="none" stroke="#3f9462" stroke-width="1.1"/>
<circle cx="622.50" cy="131.60" r="1.2" fill="#a8262c"/>
<circle cx="572.10" cy="126.10" r="2.3" fill="none" stroke="#3f9462" stroke-width="1.1"/>
<circle cx="572.10" cy="126.10" r="1.2" fill="#a8262c"/>
<circle cx="592.50" cy="133.90" r="2.3" fill="none" stroke="#3f9462" stroke-width="1.1"/>
<circle cx="592.50" cy="133.90" r="1.2" fill="#a8262c"/>
<circle cx="612.30" cy="136.40" r="2.3" fill="none" stroke="#3f9462" stroke-width="1.1"/>
<circle cx="612.30" cy="136.40" r="1.2" fill="#a8262c"/>
<circle cx="644.00" cy="138.40" r="2.3" fill="none" stroke="#3f9462" stroke-width="1.1"/>
<circle cx="644.00" cy="138.40" r="1.2" fill="#a8262c"/>
<circle cx="578.60" cy="141.00" r="2.3" fill="none" stroke="#3f9462" stroke-width="1.1"/>
<circle cx="578.60" cy="141.00" r="1.2" fill="#a8262c"/>
<circle cx="597.70" cy="142.50" r="2.3" fill="none" stroke="#3f9462" stroke-width="1.1"/>
<circle cx="597.70" cy="142.50" r="1.2" fill="#a8262c"/>
<circle cx="629.60" cy="145.50" r="2.3" fill="none" stroke="#3f9462" stroke-width="1.1"/>
<circle cx="629.60" cy="145.50" r="1.2" fill="#a8262c"/>
<circle cx="619.50" cy="150.10" r="2.3" fill="none" stroke="#3f9462" stroke-width="1.1"/>
<circle cx="619.50" cy="150.10" r="1.2" fill="#a8262c"/>
<circle cx="651.00" cy="153.00" r="2.3" fill="none" stroke="#3f9462" stroke-width="1.1"/>
<circle cx="651.00" cy="153.00" r="1.2" fill="#a8262c"/>
<circle cx="564.20" cy="147.50" r="2.3" fill="none" stroke="#3f9462" stroke-width="1.1"/>
<circle cx="564.20" cy="147.50" r="1.2" fill="#a8262c"/>
<circle cx="584.40" cy="151.10" r="2.3" fill="none" stroke="#3f9462" stroke-width="1.1"/>
<circle cx="584.40" cy="151.10" r="1.2" fill="#a8262c"/>
<circle cx="574.20" cy="155.30" r="2.3" fill="none" stroke="#3f9462" stroke-width="1.1"/>
<circle cx="574.20" cy="155.30" r="1.2" fill="#a8262c"/>
<circle cx="605.40" cy="157.30" r="2.3" fill="none" stroke="#3f9462" stroke-width="1.1"/>
<circle cx="605.40" cy="157.30" r="1.2" fill="#a8262c"/>
<circle cx="636.40" cy="158.50" r="2.3" fill="none" stroke="#3f9462" stroke-width="1.1"/>
<circle cx="636.40" cy="158.50" r="1.2" fill="#a8262c"/>
<circle cx="626.60" cy="163.90" r="2.3" fill="none" stroke="#3f9462" stroke-width="1.1"/>
<circle cx="626.60" cy="163.90" r="1.2" fill="#a8262c"/>
<circle cx="592.00" cy="165.50" r="2.3" fill="none" stroke="#3f9462" stroke-width="1.1"/>
<circle cx="592.00" cy="165.50" r="1.2" fill="#a8262c"/>
<circle cx="581.80" cy="168.90" r="2.3" fill="none" stroke="#3f9462" stroke-width="1.1"/>
<circle cx="581.80" cy="168.90" r="1.2" fill="#a8262c"/>
<circle cx="612.50" cy="171.00" r="2.3" fill="none" stroke="#3f9462" stroke-width="1.1"/>
<circle cx="612.50" cy="171.00" r="1.2" fill="#a8262c"/>
<circle cx="643.10" cy="174.00" r="2.3" fill="none" stroke="#3f9462" stroke-width="1.1"/>
<circle cx="643.10" cy="174.00" r="1.2" fill="#a8262c"/>
<circle cx="599.60" cy="177.50" r="2.3" fill="none" stroke="#3f9462" stroke-width="1.1"/>
<circle cx="599.60" cy="177.50" r="1.2" fill="#a8262c"/>
<circle cx="633.00" cy="178.60" r="2.3" fill="none" stroke="#3f9462" stroke-width="1.1"/>
<circle cx="633.00" cy="178.60" r="1.2" fill="#a8262c"/>
<circle cx="654.10" cy="181.40" r="2.3" fill="none" stroke="#3f9462" stroke-width="1.1"/>
<circle cx="654.10" cy="181.40" r="1.2" fill="#a8262c"/>
<circle cx="620.50" cy="184.00" r="2.3" fill="none" stroke="#3f9462" stroke-width="1.1"/>
<circle cx="620.50" cy="184.00" r="1.2" fill="#a8262c"/>
<circle cx="638.50" cy="188.70" r="2.3" fill="none" stroke="#3f9462" stroke-width="1.1"/>
<circle cx="638.50" cy="188.70" r="1.2" fill="#a8262c"/>
<circle cx="568.72" cy="120.01" r="1.2" fill="#c01e2a"/>
<circle cx="557.69" cy="116.42" r="1.2" fill="#c01e2a"/>
<circle cx="561.28" cy="105.39" r="1.2" fill="#c01e2a"/>
<circle cx="572.31" cy="108.98" r="1.2" fill="#c01e2a"/>
<circle cx="590.62" cy="126.41" r="1.2" fill="#c01e2a"/>
<circle cx="579.59" cy="122.82" r="1.2" fill="#c01e2a"/>
<circle cx="583.18" cy="111.79" r="1.2" fill="#c01e2a"/>
<circle cx="594.21" cy="115.38" r="1.2" fill="#c01e2a"/>
<circle cx="607.49" cy="130.97" r="1.2" fill="#c01e2a"/>
<circle cx="598.93" cy="128.19" r="1.2" fill="#c01e2a"/>
<circle cx="601.71" cy="119.63" r="1.2" fill="#c01e2a"/>
<circle cx="610.27" cy="122.41" r="1.2" fill="#c01e2a"/>
<circle cx="626.22" cy="138.91" r="1.2" fill="#c01e2a"/>
<circle cx="615.19" cy="135.32" r="1.2" fill="#c01e2a"/>
<circle cx="618.78" cy="124.29" r="1.2" fill="#c01e2a"/>
<circle cx="629.81" cy="127.88" r="1.2" fill="#c01e2a"/>
<circle cx="575.82" cy="133.41" r="1.2" fill="#c01e2a"/>
<circle cx="564.79" cy="129.82" r="1.2" fill="#c01e2a"/>
<circle cx="568.38" cy="118.79" r="1.2" fill="#c01e2a"/>
<circle cx="579.41" cy="122.38" r="1.2" fill="#c01e2a"/>
<circle cx="596.22" cy="141.21" r="1.2" fill="#c01e2a"/>
<circle cx="585.19" cy="137.62" r="1.2" fill="#c01e2a"/>
<circle cx="588.78" cy="126.59" r="1.2" fill="#c01e2a"/>
<circle cx="599.81" cy="130.18" r="1.2" fill="#c01e2a"/>
<circle cx="616.02" cy="143.71" r="1.2" fill="#c01e2a"/>
<circle cx="604.99" cy="140.12" r="1.2" fill="#c01e2a"/>
<circle cx="608.58" cy="129.09" r="1.2" fill="#c01e2a"/>
<circle cx="619.61" cy="132.68" r="1.2" fill="#c01e2a"/>
<circle cx="647.72" cy="145.71" r="1.2" fill="#c01e2a"/>
<circle cx="636.69" cy="142.12" r="1.2" fill="#c01e2a"/>
<circle cx="640.28" cy="131.09" r="1.2" fill="#c01e2a"/>
<circle cx="651.31" cy="134.68" r="1.2" fill="#c01e2a"/>
<circle cx="582.32" cy="148.31" r="1.2" fill="#c01e2a"/>
<circle cx="571.29" cy="144.72" r="1.2" fill="#c01e2a"/>
<circle cx="574.88" cy="133.69" r="1.2" fill="#c01e2a"/>
<circle cx="585.91" cy="137.28" r="1.2" fill="#c01e2a"/>
<circle cx="601.42" cy="149.81" r="1.2" fill="#c01e2a"/>
<circle cx="590.39" cy="146.22" r="1.2" fill="#c01e2a"/>
<circle cx="593.98" cy="135.19" r="1.2" fill="#c01e2a"/>
<circle cx="605.01" cy="138.78" r="1.2" fill="#c01e2a"/>
<circle cx="633.32" cy="152.81" r="1.2" fill="#c01e2a"/>
<circle cx="622.29" cy="149.22" r="1.2" fill="#c01e2a"/>
<circle cx="625.88" cy="138.19" r="1.2" fill="#c01e2a"/>
<circle cx="636.91" cy="141.78" r="1.2" fill="#c01e2a"/>
<circle cx="623.22" cy="157.41" r="1.2" fill="#c01e2a"/>
<circle cx="612.19" cy="153.82" r="1.2" fill="#c01e2a"/>
<circle cx="615.78" cy="142.79" r="1.2" fill="#c01e2a"/>
<circle cx="626.81" cy="146.38" r="1.2" fill="#c01e2a"/>
<circle cx="654.72" cy="160.31" r="1.2" fill="#c01e2a"/>
<circle cx="643.69" cy="156.72" r="1.2" fill="#c01e2a"/>
<circle cx="647.28" cy="145.69" r="1.2" fill="#c01e2a"/>
<circle cx="658.31" cy="149.28" r="1.2" fill="#c01e2a"/>
<circle cx="567.92" cy="154.81" r="1.2" fill="#c01e2a"/>
<circle cx="556.89" cy="151.22" r="1.2" fill="#c01e2a"/>
<circle cx="560.48" cy="140.19" r="1.2" fill="#c01e2a"/>
<circle cx="571.51" cy="143.78" r="1.2" fill="#c01e2a"/>
<circle cx="588.12" cy="158.41" r="1.2" fill="#c01e2a"/>
<circle cx="577.09" cy="154.82" r="1.2" fill="#c01e2a"/>
<circle cx="580.68" cy="143.79" r="1.2" fill="#c01e2a"/>
<circle cx="591.71" cy="147.38" r="1.2" fill="#c01e2a"/>
<circle cx="577.92" cy="162.61" r="1.2" fill="#c01e2a"/>
<circle cx="566.89" cy="159.02" r="1.2" fill="#c01e2a"/>
<circle cx="570.48" cy="147.99" r="1.2" fill="#c01e2a"/>
<circle cx="581.51" cy="151.58" r="1.2" fill="#c01e2a"/>
<circle cx="609.12" cy="164.61" r="1.2" fill="#c01e2a"/>
<circle cx="598.09" cy="161.02" r="1.2" fill="#c01e2a"/>
<circle cx="601.68" cy="149.99" r="1.2" fill="#c01e2a"/>
<circle cx="612.71" cy="153.58" r="1.2" fill="#c01e2a"/>
<circle cx="640.12" cy="165.81" r="1.2" fill="#c01e2a"/>
<circle cx="629.09" cy="162.22" r="1.2" fill="#c01e2a"/>
<circle cx="632.68" cy="151.19" r="1.2" fill="#c01e2a"/>
<circle cx="643.71" cy="154.78" r="1.2" fill="#c01e2a"/>
<circle cx="630.32" cy="171.21" r="1.2" fill="#c01e2a"/>
<circle cx="619.29" cy="167.62" r="1.2" fill="#c01e2a"/>
<circle cx="622.88" cy="156.59" r="1.2" fill="#c01e2a"/>
<circle cx="633.91" cy="160.18" r="1.2" fill="#c01e2a"/>
<circle cx="595.72" cy="172.81" r="1.2" fill="#c01e2a"/>
<circle cx="584.69" cy="169.22" r="1.2" fill="#c01e2a"/>
<circle cx="588.28" cy="158.19" r="1.2" fill="#c01e2a"/>
<circle cx="599.31" cy="161.78" r="1.2" fill="#c01e2a"/>
<circle cx="585.52" cy="176.21" r="1.2" fill="#c01e2a"/>
<circle cx="574.49" cy="172.62" r="1.2" fill="#c01e2a"/>
<circle cx="578.08" cy="161.59" r="1.2" fill="#c01e2a"/>
<circle cx="589.11" cy="165.18" r="1.2" fill="#c01e2a"/>
<circle cx="616.22" cy="178.31" r="1.2" fill="#c01e2a"/>
<circle cx="605.19" cy="174.72" r="1.2" fill="#c01e2a"/>
<circle cx="608.78" cy="163.69" r="1.2" fill="#c01e2a"/>
<circle cx="619.81" cy="167.28" r="1.2" fill="#c01e2a"/>
<circle cx="646.82" cy="181.31" r="1.2" fill="#c01e2a"/>
<circle cx="635.79" cy="177.72" r="1.2" fill="#c01e2a"/>
<circle cx="639.38" cy="166.69" r="1.2" fill="#c01e2a"/>
<circle cx="650.41" cy="170.28" r="1.2" fill="#c01e2a"/>
<circle cx="602.33" cy="182.86" r="1.2" fill="#c01e2a"/>
<circle cx="594.24" cy="180.23" r="1.2" fill="#c01e2a"/>
<circle cx="596.87" cy="172.14" r="1.2" fill="#c01e2a"/>
<circle cx="604.96" cy="174.77" r="1.2" fill="#c01e2a"/>
<circle cx="636.72" cy="185.91" r="1.2" fill="#c01e2a"/>
<circle cx="625.69" cy="182.32" r="1.2" fill="#c01e2a"/>
<circle cx="629.28" cy="171.29" r="1.2" fill="#c01e2a"/>
<circle cx="640.31" cy="174.88" r="1.2" fill="#c01e2a"/>
<circle cx="657.82" cy="188.71" r="1.2" fill="#c01e2a"/>
<circle cx="646.79" cy="185.12" r="1.2" fill="#c01e2a"/>
<circle cx="650.38" cy="174.09" r="1.2" fill="#c01e2a"/>
<circle cx="661.41" cy="177.68" r="1.2" fill="#c01e2a"/>
<circle cx="623.39" cy="189.67" r="1.2" fill="#c01e2a"/>
<circle cx="614.83" cy="186.89" r="1.2" fill="#c01e2a"/>
<circle cx="617.61" cy="178.33" r="1.2" fill="#c01e2a"/>
<circle cx="626.17" cy="181.11" r="1.2" fill="#c01e2a"/>
<circle cx="642.22" cy="196.01" r="1.2" fill="#c01e2a"/>
<circle cx="631.19" cy="192.42" r="1.2" fill="#c01e2a"/>
<circle cx="634.78" cy="181.39" r="1.2" fill="#c01e2a"/>
<circle cx="645.81" cy="184.98" r="1.2" fill="#c01e2a"/>
<polygon points="585.00,236.00 636.00,236.00 662.00,282.00 610.00,285.00" fill="#86bc9c" fill-opacity="0.60" stroke="#74ad8e" stroke-width="0.6" stroke-linejoin="round"/>
<polygon points="593.50,230.74 600.55,236.65 598.95,245.71 590.30,248.86 583.25,242.95 584.85,233.89" fill="#8cc2a2" fill-opacity="0.80" stroke="#74ad8e" stroke-width="0.6" stroke-linejoin="round"/>
<polygon points="610.30,234.74 617.35,240.65 615.75,249.71 607.10,252.86 600.05,246.95 601.65,237.89" fill="#8cc2a2" fill-opacity="0.80" stroke="#74ad8e" stroke-width="0.6" stroke-linejoin="round"/>
<polygon points="620.10,231.74 627.15,237.65 625.55,246.71 616.90,249.86 609.85,243.95 611.45,234.89" fill="#8cc2a2" fill-opacity="0.80" stroke="#74ad8e" stroke-width="0.6" stroke-linejoin="round"/>
<polygon points="635.90,234.74 642.95,240.65 641.35,249.71 632.70,252.86 625.65,246.95 627.25,237.89" fill="#8cc2a2" fill-opacity="0.80" stroke="#74ad8e" stroke-width="0.6" stroke-linejoin="round"/>
<polygon points="600.40,243.64 607.45,249.55 605.85,258.61 597.20,261.76 590.15,255.85 591.75,246.79" fill="#8cc2a2" fill-opacity="0.80" stroke="#74ad8e" stroke-width="0.6" stroke-linejoin="round"/>
<polygon points="616.80,246.54 623.85,252.45 622.25,261.51 613.60,264.66 606.55,258.75 608.15,249.69" fill="#8cc2a2" fill-opacity="0.80" stroke="#74ad8e" stroke-width="0.6" stroke-linejoin="round"/>
<polygon points="626.10,243.64 633.15,249.55 631.55,258.61 622.90,261.76 615.85,255.85 617.45,246.79" fill="#8cc2a2" fill-opacity="0.80" stroke="#74ad8e" stroke-width="0.6" stroke-linejoin="round"/>
<polygon points="642.90,246.54 649.95,252.45 648.35,261.51 639.70,264.66 632.65,258.75 634.25,249.69" fill="#8cc2a2" fill-opacity="0.80" stroke="#74ad8e" stroke-width="0.6" stroke-linejoin="round"/>
<polygon points="606.30,255.44 613.35,261.35 611.75,270.41 603.10,273.56 596.05,267.65 597.65,258.59" fill="#8cc2a2" fill-opacity="0.80" stroke="#74ad8e" stroke-width="0.6" stroke-linejoin="round"/>
<polygon points="623.10,258.44 630.15,264.35 628.55,273.41 619.90,276.56 612.85,270.65 614.45,261.59" fill="#8cc2a2" fill-opacity="0.80" stroke="#74ad8e" stroke-width="0.6" stroke-linejoin="round"/>
<polygon points="633.00,255.44 640.05,261.35 638.45,270.41 629.80,273.56 622.75,267.65 624.35,258.59" fill="#8cc2a2" fill-opacity="0.80" stroke="#74ad8e" stroke-width="0.6" stroke-linejoin="round"/>
<polygon points="649.80,258.44 656.85,264.35 655.25,273.41 646.60,276.56 639.55,270.65 641.15,261.59" fill="#8cc2a2" fill-opacity="0.80" stroke="#74ad8e" stroke-width="0.6" stroke-linejoin="round"/>
<polygon points="613.20,268.34 620.25,274.25 618.65,283.31 610.00,286.46 602.95,280.55 604.55,271.49" fill="#8cc2a2" fill-opacity="0.80" stroke="#74ad8e" stroke-width="0.6" stroke-linejoin="round"/>
<polygon points="630.00,270.24 637.05,276.15 635.45,285.21 626.80,288.36 619.75,282.45 621.35,273.39" fill="#8cc2a2" fill-opacity="0.80" stroke="#74ad8e" stroke-width="0.6" stroke-linejoin="round"/>
<polygon points="638.90,268.34 645.95,274.25 644.35,283.31 635.70,286.46 628.65,280.55 630.25,271.49" fill="#8cc2a2" fill-opacity="0.80" stroke="#74ad8e" stroke-width="0.6" stroke-linejoin="round"/>
<polygon points="655.70,270.24 662.75,276.15 661.15,285.21 652.50,288.36 645.45,282.45 647.05,273.39" fill="#8cc2a2" fill-opacity="0.80" stroke="#74ad8e" stroke-width="0.6" stroke-linejoin="round"/>
<circle cx="591.90" cy="239.80" r="2.4" fill="#2f8e5a"/>
<circle cx="608.70" cy="243.80" r="2.4" fill="#2f8e5a"/>
<circle cx="618.50" cy="240.80" r="2.4" fill="#2f8e5a"/>
<circle cx="634.30" cy="243.80" r="2.4" fill="#2f8e5a"/>
<circle cx="598.80" cy="252.70" r="2.4" fill="#2f8e5a"/>
<circle cx="615.20" cy="255.60" r="2.4" fill="#2f8e5a"/>
<circle cx="624.50" cy="252.70" r="2.4" fill="#2f8e5a"/>
<circle cx="641.30" cy="255.60" r="2.4" fill="#2f8e5a"/>
<circle cx="604.70" cy="264.50" r="2.4" fill="#2f8e5a"/>
<circle cx="621.50" cy="267.50" r="2.4" fill="#2f8e5a"/>
<circle cx="631.40" cy="264.50" r="2.4" fill="#2f8e5a"/>
<circle cx="648.20" cy="267.50" r="2.4" fill="#2f8e5a"/>
<circle cx="611.60" cy="277.40" r="2.4" fill="#2f8e5a"/>
<circle cx="628.40" cy="279.30" r="2.4" fill="#2f8e5a"/>
<circle cx="637.30" cy="277.40" r="2.4" fill="#2f8e5a"/>
<circle cx="654.10" cy="279.30" r="2.4" fill="#2f8e5a"/>
<circle cx="593.50" cy="230.74" r="1.15" fill="#c01e2a"/>
<circle cx="600.55" cy="236.65" r="1.15" fill="#c01e2a"/>
<circle cx="598.95" cy="245.71" r="1.15" fill="#c01e2a"/>
<circle cx="590.30" cy="248.86" r="1.15" fill="#c01e2a"/>
<circle cx="583.25" cy="242.95" r="1.15" fill="#c01e2a"/>
<circle cx="584.85" cy="233.89" r="1.15" fill="#c01e2a"/>
<circle cx="610.30" cy="234.74" r="1.15" fill="#c01e2a"/>
<circle cx="617.35" cy="240.65" r="1.15" fill="#c01e2a"/>
<circle cx="615.75" cy="249.71" r="1.15" fill="#c01e2a"/>
<circle cx="607.10" cy="252.86" r="1.15" fill="#c01e2a"/>
<circle cx="600.05" cy="246.95" r="1.15" fill="#c01e2a"/>
<circle cx="601.65" cy="237.89" r="1.15" fill="#c01e2a"/>
<circle cx="620.10" cy="231.74" r="1.15" fill="#c01e2a"/>
<circle cx="627.15" cy="237.65" r="1.15" fill="#c01e2a"/>
<circle cx="625.55" cy="246.71" r="1.15" fill="#c01e2a"/>
<circle cx="616.90" cy="249.86" r="1.15" fill="#c01e2a"/>
<circle cx="609.85" cy="243.95" r="1.15" fill="#c01e2a"/>
<circle cx="611.45" cy="234.89" r="1.15" fill="#c01e2a"/>
<circle cx="635.90" cy="234.74" r="1.15" fill="#c01e2a"/>
<circle cx="642.95" cy="240.65" r="1.15" fill="#c01e2a"/>
<circle cx="641.35" cy="249.71" r="1.15" fill="#c01e2a"/>
<circle cx="632.70" cy="252.86" r="1.15" fill="#c01e2a"/>
<circle cx="625.65" cy="246.95" r="1.15" fill="#c01e2a"/>
<circle cx="627.25" cy="237.89" r="1.15" fill="#c01e2a"/>
<circle cx="600.40" cy="243.64" r="1.15" fill="#c01e2a"/>
<circle cx="607.45" cy="249.55" r="1.15" fill="#c01e2a"/>
<circle cx="605.85" cy="258.61" r="1.15" fill="#c01e2a"/>
<circle cx="597.20" cy="261.76" r="1.15" fill="#c01e2a"/>
<circle cx="590.15" cy="255.85" r="1.15" fill="#c01e2a"/>
<circle cx="591.75" cy="246.79" r="1.15" fill="#c01e2a"/>
<circle cx="616.80" cy="246.54" r="1.15" fill="#c01e2a"/>
<circle cx="623.85" cy="252.45" r="1.15" fill="#c01e2a"/>
<circle cx="622.25" cy="261.51" r="1.15" fill="#c01e2a"/>
<circle cx="613.60" cy="264.66" r="1.15" fill="#c01e2a"/>
<circle cx="606.55" cy="258.75" r="1.15" fill="#c01e2a"/>
<circle cx="608.15" cy="249.69" r="1.15" fill="#c01e2a"/>
<circle cx="626.10" cy="243.64" r="1.15" fill="#c01e2a"/>
<circle cx="633.15" cy="249.55" r="1.15" fill="#c01e2a"/>
<circle cx="631.55" cy="258.61" r="1.15" fill="#c01e2a"/>
<circle cx="622.90" cy="261.76" r="1.15" fill="#c01e2a"/>
<circle cx="615.85" cy="255.85" r="1.15" fill="#c01e2a"/>
<circle cx="617.45" cy="246.79" r="1.15" fill="#c01e2a"/>
<circle cx="642.90" cy="246.54" r="1.15" fill="#c01e2a"/>
<circle cx="649.95" cy="252.45" r="1.15" fill="#c01e2a"/>
<circle cx="648.35" cy="261.51" r="1.15" fill="#c01e2a"/>
<circle cx="639.70" cy="264.66" r="1.15" fill="#c01e2a"/>
<circle cx="632.65" cy="258.75" r="1.15" fill="#c01e2a"/>
<circle cx="634.25" cy="249.69" r="1.15" fill="#c01e2a"/>
<circle cx="606.30" cy="255.44" r="1.15" fill="#c01e2a"/>
<circle cx="613.35" cy="261.35" r="1.15" fill="#c01e2a"/>
<circle cx="611.75" cy="270.41" r="1.15" fill="#c01e2a"/>
<circle cx="603.10" cy="273.56" r="1.15" fill="#c01e2a"/>
<circle cx="596.05" cy="267.65" r="1.15" fill="#c01e2a"/>
<circle cx="597.65" cy="258.59" r="1.15" fill="#c01e2a"/>
<circle cx="623.10" cy="258.44" r="1.15" fill="#c01e2a"/>
<circle cx="630.15" cy="264.35" r="1.15" fill="#c01e2a"/>
<circle cx="628.55" cy="273.41" r="1.15" fill="#c01e2a"/>
<circle cx="619.90" cy="276.56" r="1.15" fill="#c01e2a"/>
<circle cx="612.85" cy="270.65" r="1.15" fill="#c01e2a"/>
<circle cx="614.45" cy="261.59" r="1.15" fill="#c01e2a"/>
<circle cx="633.00" cy="255.44" r="1.15" fill="#c01e2a"/>
<circle cx="640.05" cy="261.35" r="1.15" fill="#c01e2a"/>
<circle cx="638.45" cy="270.41" r="1.15" fill="#c01e2a"/>
<circle cx="629.80" cy="273.56" r="1.15" fill="#c01e2a"/>
<circle cx="622.75" cy="267.65" r="1.15" fill="#c01e2a"/>
<circle cx="624.35" cy="258.59" r="1.15" fill="#c01e2a"/>
<circle cx="649.80" cy="258.44" r="1.15" fill="#c01e2a"/>
<circle cx="656.85" cy="264.35" r="1.15" fill="#c01e2a"/>
<circle cx="655.25" cy="273.41" r="1.15" fill="#c01e2a"/>
<circle cx="646.60" cy="276.56" r="1.15" fill="#c01e2a"/>
<circle cx="639.55" cy="270.65" r="1.15" fill="#c01e2a"/>
<circle cx="641.15" cy="261.59" r="1.15" fill="#c01e2a"/>
<circle cx="613.20" cy="268.34" r="1.15" fill="#c01e2a"/>
<circle cx="620.25" cy="274.25" r="1.15" fill="#c01e2a"/>
<circle cx="618.65" cy="283.31" r="1.15" fill="#c01e2a"/>
<circle cx="610.00" cy="286.46" r="1.15" fill="#c01e2a"/>
<circle cx="602.95" cy="280.55" r="1.15" fill="#c01e2a"/>
<circle cx="604.55" cy="271.49" r="1.15" fill="#c01e2a"/>
<circle cx="630.00" cy="270.24" r="1.15" fill="#c01e2a"/>
<circle cx="637.05" cy="276.15" r="1.15" fill="#c01e2a"/>
<circle cx="635.45" cy="285.21" r="1.15" fill="#c01e2a"/>
<circle cx="626.80" cy="288.36" r="1.15" fill="#c01e2a"/>
<circle cx="619.75" cy="282.45" r="1.15" fill="#c01e2a"/>
<circle cx="621.35" cy="273.39" r="1.15" fill="#c01e2a"/>
<circle cx="638.90" cy="268.34" r="1.15" fill="#c01e2a"/>
<circle cx="645.95" cy="274.25" r="1.15" fill="#c01e2a"/>
<circle cx="644.35" cy="283.31" r="1.15" fill="#c01e2a"/>
<circle cx="635.70" cy="286.46" r="1.15" fill="#c01e2a"/>
<circle cx="628.65" cy="280.55" r="1.15" fill="#c01e2a"/>
<circle cx="630.25" cy="271.49" r="1.15" fill="#c01e2a"/>
<circle cx="655.70" cy="270.24" r="1.15" fill="#c01e2a"/>
<circle cx="662.75" cy="276.15" r="1.15" fill="#c01e2a"/>
<circle cx="661.15" cy="285.21" r="1.15" fill="#c01e2a"/>
<circle cx="652.50" cy="288.36" r="1.15" fill="#c01e2a"/>
<circle cx="645.45" cy="282.45" r="1.15" fill="#c01e2a"/>
<circle cx="647.05" cy="273.39" r="1.15" fill="#c01e2a"/>
</svg>
</body></html>
